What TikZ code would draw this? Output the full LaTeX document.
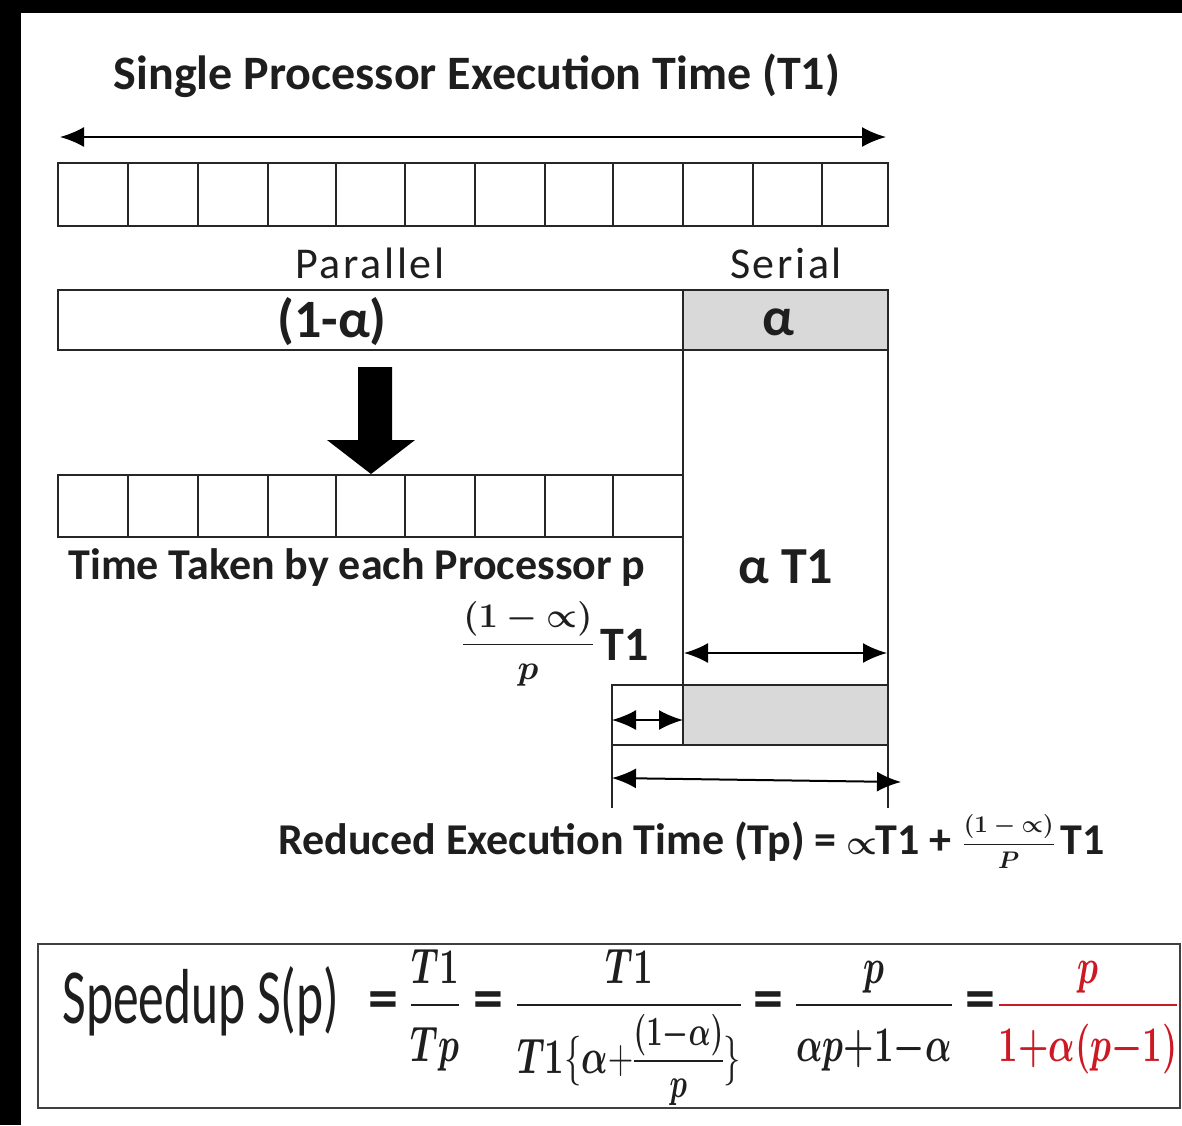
\documentclass[tikz,border=0pt]{standalone}
\usepackage{fontspec}
\setmainfont{Carlito}
\newfontfamily\spacedfont[LetterSpace=6]{Carlito}
\usepackage{amsmath,bm}
\usetikzlibrary{arrows.meta}
\definecolor{linec}{HTML}{262626}
\definecolor{graycell}{HTML}{D9D9D9}
\definecolor{txt}{HTML}{1E1E1E}
\definecolor{redc}{RGB}{205,25,35}
\newcommand{\myfs}[1]{\fontsize{#1}{#1}\selectfont}
\newcommand{\fracA}{\dfrac{(1-{\propto})}{p}}
\newcommand{\fracB}{\dfrac{(1-{\propto})}{P}}
\newcommand{\dn}{\rule{0pt}{25pt}}
\newcommand{\innerfrac}{\smash[t]{\setlength{\arrayrulewidth}{1pt}\begin{array}{@{}c@{}}\mbox{\myfs{20}$\bm{(1{-}\alpha)}$}\\\hline\mbox{\myfs{20}$\bm{p}$}\end{array}}}
\newcommand{\eqA}{\frac{\bm{T1}}{\bm{Tp}\dn}}
\newcommand{\eqB}{\frac{\bm{T1}}{\bm{T1}\{\bm{\alpha}{+}\innerfrac\}\rule{0pt}{31pt}}}
\newcommand{\eqC}{\frac{\bm{p}}{\bm{\alpha p{+}1{-}\alpha}\dn}}
\newcommand{\eqD}{\frac{\bm{p}}{\bm{1{+}\alpha(p{-}1)}\dn}}
\begin{document}
\begin{tikzpicture}[x=0.5pt,y=-0.5pt,
  box/.style={draw=linec,line width=1.4pt},
  lbl/.style={inner sep=0pt,text=txt,font=\bfseries},
  dimarrow/.style={draw=black,line width=1pt,{Latex[length=12pt,width=10pt]}-{Latex[length=12pt,width=10pt]}},
  mathnode/.style={inner sep=0pt,text=txt,anchor=base},
  eqsign/.style={inner sep=0pt,text=txt,font=\bfseries\myfs{30}},
]
\useasboundingbox (0,0) rectangle (1182,1125);
\fill[black] (0,0) rectangle (1182,1125);
\fill[white] (21,13) rectangle (1182,1125);

% title and top arrow
\node[lbl,font=\bfseries\myfs{24}] (title) at (477,76) {Single Processor Execution Time (T1)};
\coordinate (tl) at (60,137);
\coordinate (tr) at (886,137);
\draw[dimarrow] (tl) -- (tr);

% top row of 12 cells
\draw[box] (58,163) rectangle (888,226);
\foreach \x in {128,198,268,336,405,475,545,613,683,753,822} \draw[box] (\x,163) -- (\x,226);

\node[lbl,font=\spacedfont\myfs{22}] (par) at (370,263) {Parallel};
\node[lbl,font=\spacedfont\myfs{22}] (ser) at (786,263) {Serial};

% parallel / serial bar
\fill[graycell] (683,290) rectangle (888,350);
\fill[graycell] (683,685) rectangle (888,745);
\draw[box] (58,290) rectangle (888,350);
\draw[box] (683,290) -- (683,745);
\draw[box] (888,290) -- (888,808);
\node[lbl,font=\bfseries\myfs{27}] (onema) at (332,322) {(1-α)};
\node[lbl,font=\bfseries\myfs{27}] (alph) at (778,322) {α};

% big down arrow
\fill[black] (358,367) -- (392,367) -- (392,440) -- (415,440) -- (371,474) -- (327,440) -- (358,440) -- cycle;

% third row of 9 cells
\draw[box] (58,475) rectangle (683,537);
\foreach \x in {128,198,268,336,405,475,545,613} \draw[box] (\x,475) -- (\x,537);
\node[lbl,font=\bfseries\myfs{22}] (each) at (357,568) {Time Taken by each Processor p};
\node[lbl,font=\bfseries\myfs{26}] (aT1) at (786,567) {α T1};

% (1-a)/p T1
\node[mathnode,font=\myfs{16}] (fa) at (528,653) {$\bm{\fracA}$};
\node[lbl,font=\bfseries\myfs{24}] (T1a) at (625,645) {T1};

% middle arrow
\coordinate (m1) at (684,653);
\coordinate (m2) at (887,653);
\draw[dimarrow] (m1) -- (m2);

% lower box
\draw[box] (612,685) rectangle (888,745);
\draw[box] (612,745) -- (612,808);
\coordinate (s1) at (612,720);
\coordinate (s2) at (683,720);
\draw[dimarrow] (s1) -- (s2);
\coordinate (b1) at (612,778);
\coordinate (b2) at (901,782);
\draw[dimarrow] (b1) -- (b2);

% reduced execution time
\node[lbl,font=\bfseries\myfs{22},anchor=base west] (redu) at (278,854)
  {Reduced Execution Time (Tp) = {\myfs{16}$\bm{\propto}$}\hspace{-1pt}T1 + \raisebox{2pt}{\myfs{13}$\bm{\fracB}$}\hspace{0.1em}T1};

% speedup box
\draw[draw=black!75,line width=1.3pt] (38,944) rectangle (1180,1108);
\node[inner sep=0pt,text=txt,font=\myfs{39},anchor=base west] (sp) at (62,1023) {\scalebox{0.66}[1]{Speedup S(p)}};
\node[eqsign] (e1) at (383,1005) {=};
\node[mathnode,font=\myfs{25}] (f1) at (435,1017) {\scalebox{0.7}[1]{$\displaystyle\eqA$}};
\node[eqsign] (e2) at (488,1005) {=};
\node[mathnode,font=\myfs{25}] (f2) at (629,1017) {\scalebox{0.7}[1]{$\displaystyle\eqB$}};
\node[eqsign] (e3) at (768,1005) {=};
\node[mathnode,font=\myfs{25}] (f3) at (874,1017) {\scalebox{0.7}[1]{$\displaystyle\eqC$}};
\node[eqsign] (e4) at (980,1005) {=};
\node[mathnode,font=\myfs{25},text=redc] (f4) at (1088,1017) {\color{redc}\scalebox{0.7}[1]{$\displaystyle\eqD$}};
\end{tikzpicture}
\end{document}
